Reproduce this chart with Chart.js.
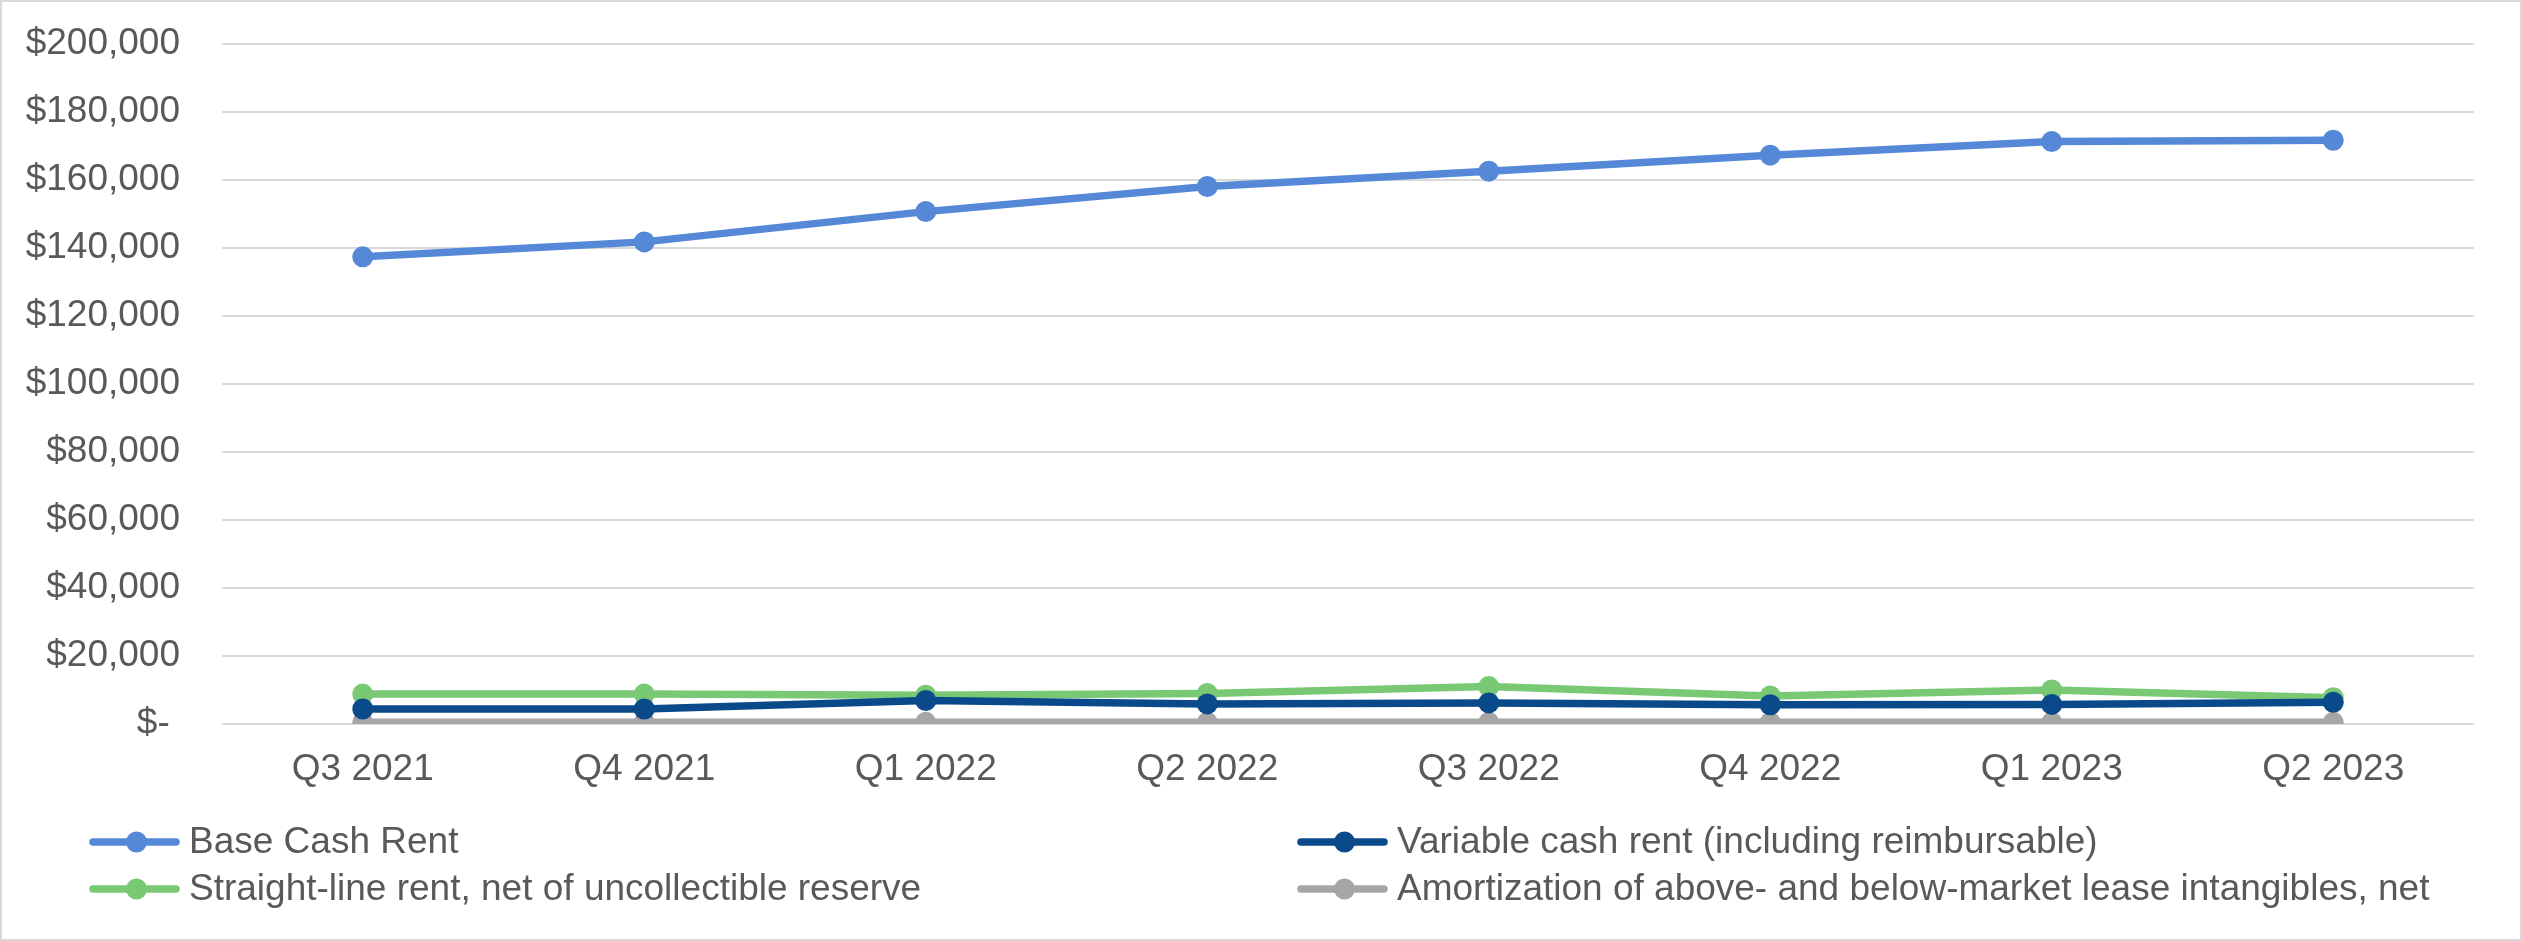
<!DOCTYPE html>
<html>
<head>
<meta charset="utf-8">
<script src="https://cdn.jsdelivr.net/npm/chart.js@4.4.1/dist/chart.umd.min.js"></script>
<style>
  html, body { margin: 0; padding: 0; background: #ffffff; }
  #wrap { position: relative; width: 2522px; height: 941px; }
  canvas { display: block; }
</style>
</head>
<body>
<div id="wrap"><canvas id="c" width="2522" height="941"></canvas></div>
<script>
const categories = ["Q3 2021", "Q4 2021", "Q1 2022", "Q2 2022", "Q3 2022", "Q4 2022", "Q1 2023", "Q2 2023"];
const baseCashRent = [137400, 141800, 150700, 158100, 162600, 167300, 171300, 171700];
const variableCashRent = [4400, 4400, 6900, 5900, 6200, 5650, 5750, 6400];
const straightLineRent = [8800, 8800, 8450, 9000, 11000, 8250, 10000, 7750];
const amortization = [500, 500, 500, 500, 500, 500, 500, 500];
const seriesLabels = [
  "Base Cash Rent",
  "Variable cash rent (including reimbursable)",
  "Straight-line rent, net of uncollectible reserve",
  "Amortization of above- and below-market lease intangibles, net"
];
const yTicks = [0, 20000, 40000, 60000, 80000, 100000, 120000, 140000, 160000, 180000, 200000];

const FONT = "'Liberation Sans', Arial, sans-serif";
const TEXT = "#595959";
const colors = ["#5589D8", "#0B4A8A", "#78C874", "#A6A6A6"];

function ds(label, data, color, order) {
  return {
    label, data,
    borderColor: color, backgroundColor: color,
    pointBackgroundColor: color, pointBorderColor: color,
    borderWidth: 7.5, pointRadius: 10.5, pointHoverRadius: 10.5, pointBorderWidth: 0,
    tension: 0, order
  };
}

const frame = {
  id: 'frame',
  beforeDraw(chart) {
    const c = chart.ctx;
    c.save();
    c.fillStyle = '#ffffff';
    c.fillRect(0, 0, chart.width, chart.height);
    c.strokeStyle = '#D9D9D9';
    c.lineWidth = 2;
    c.strokeRect(1, 1, chart.width - 2, chart.height - 2);
    c.restore();
  }
};

const gridLegend = {
  id: 'gridLegend',
  afterDraw(chart) {
    const c = chart.ctx;
    const dsets = chart.data.datasets;
    const colX = [90, 1298];
    const rowY = [842, 889];
    const lineLen = 89;
    c.save();
    c.font = "37px " + FONT;
    c.textBaseline = 'middle';
    c.textAlign = 'left';
    dsets.forEach((d, i) => {
      const x = colX[i % 2];
      const y = rowY[Math.floor(i / 2)];
      c.strokeStyle = d.borderColor;
      c.lineWidth = 7.5;
      c.lineCap = 'round';
      c.beginPath();
      c.moveTo(x + 3, y);
      c.lineTo(x + lineLen - 3, y);
      c.stroke();
      c.fillStyle = d.borderColor;
      c.beginPath();
      c.arc(x + lineLen / 2 + 2, y, 10.5, 0, Math.PI * 2);
      c.fill();
      c.fillStyle = TEXT;
      c.fillText(d.label, x + lineLen + 10, y + 1);
    });
    c.restore();
  }
};

new Chart(document.getElementById('c'), {
  type: 'line',
  data: {
    labels: categories,
    datasets: [
      ds(seriesLabels[0], baseCashRent, colors[0], 1),
      ds(seriesLabels[1], variableCashRent, colors[1], 2),
      ds(seriesLabels[2], straightLineRent, colors[2], 3),
      ds(seriesLabels[3], amortization, colors[3], 4)
    ]
  },
  options: {
    responsive: false,
    animation: false,
    devicePixelRatio: 1,
    layout: { padding: { top: 44, right: 48, bottom: 137, left: 0 } },
    plugins: {
      legend: { display: false },
      tooltip: { enabled: false },
      title: { display: false }
    },
    scales: {
      x: {
        type: 'category',
        offset: true,
        grid: { display: false, drawTicks: false },
        border: { display: false },
        ticks: { color: TEXT, font: { family: FONT, size: 37 }, padding: 24, maxRotation: 0, autoSkip: false },
        afterFit(s) { s.height = 80; s.paddingLeft = 0; s.paddingRight = 0; }
      },
      y: {
        min: 0, max: 200000,
        afterBuildTicks(s) { s.ticks = yTicks.map(v => ({ value: v })); },
        grid: { color: '#D9D9D9', lineWidth: 2, drawTicks: false },
        border: { display: false },
        ticks: {
          color: TEXT, font: { family: FONT, size: 37 }, padding: 42,
          callback: v => v === 0 ? "$- " : "$" + v.toLocaleString('en-US')
        },
        afterFit(s) { s.width = 222; s.paddingTop = 0; s.paddingBottom = 0; }
      }
    }
  },
  plugins: [frame, gridLegend]
});
</script>
</body>
</html>
